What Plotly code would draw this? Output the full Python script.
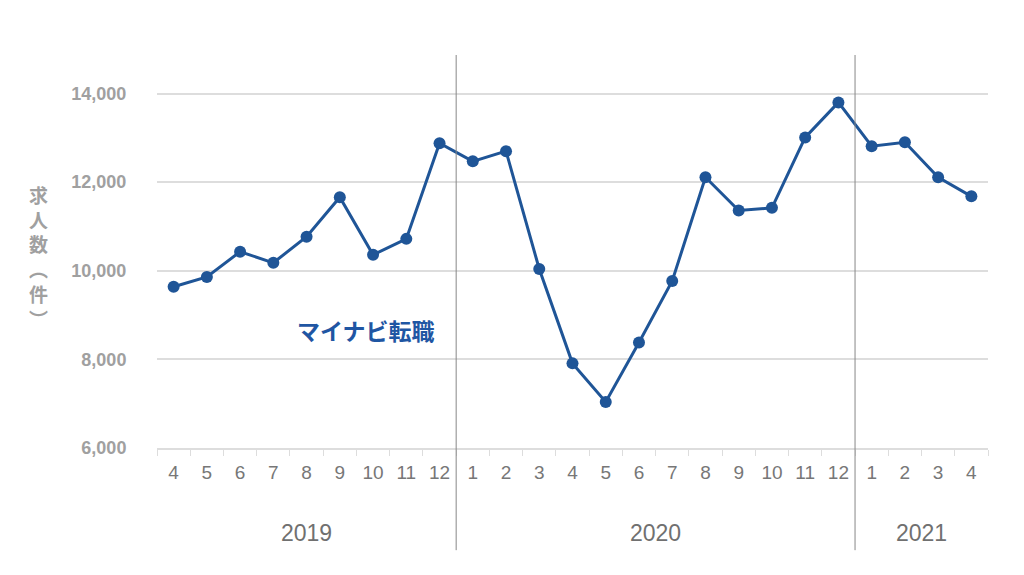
import plotly.graph_objects as go

years = [2019]*9 + [2020]*12 + [2021]*4
months = [4,5,6,7,8,9,10,11,12, 1,2,3,4,5,6,7,8,9,10,11,12, 1,2,3,4]
values = [9640, 9860, 10430, 10180, 10770, 11660, 10360, 10720, 12880,
          12470, 12700, 10040, 7910, 7040, 8380, 9770, 12110, 11360, 11420, 13010, 13800,
          12810, 12900, 12110, 11680]
series_name = "マイナビ転職"
y_title_chars = ["求", "人", "数", "︵", "件", "︶"]
y_ticks = [6000, 8000, 10000, 12000, 14000]

cats = [f"{y}-{m}" for y, m in zip(years, months)]
blue = "#1f5597"

fig = go.Figure()
fig.add_trace(go.Scatter(
    x=cats, y=values, mode="lines+markers", name=series_name,
    line=dict(color=blue, width=3),
    marker=dict(color=blue, size=12),
    showlegend=False,
))

idx_groups = {}
for i, y in enumerate(years):
    idx_groups.setdefault(y, []).append(i)
shapes = []
annotations = []
for k, y in enumerate(sorted(idx_groups)):
    ids = idx_groups[y]
    center = (ids[0] + ids[-1]) / 2
    annotations.append(dict(x=center, y=-0.216, xref="x", yref="paper",
                            text=str(y), showarrow=False,
                            font=dict(size=23, color="#707070"),
                            xanchor="center", yanchor="middle"))
    if k > 0:
        shapes.append(dict(type="line", xref="x", yref="paper",
                           x0=ids[0] - 0.5, x1=ids[0] - 0.5, y0=-0.26, y1=1,
                           line=dict(color="#888888", width=1)))

annotations.append(dict(x=0, xref="paper", y=0.4885, yref="paper",
                        text="<b>" + "<br>".join(y_title_chars) + "</b>",
                        showarrow=False, xshift=-119,
                        font=dict(size=19, color="#a0a0a0",
                                  family="Noto Sans CJK JP"),
                        xanchor="center", yanchor="middle"))
annotations.append(dict(x=7.92, y=8660, xref="x", yref="y",
                        text=f"<b>{series_name}</b>", showarrow=False,
                        font=dict(size=23, color="#1f56a3",
                                  family="Noto Sans CJK JP"),
                        xanchor="right", yanchor="middle"))

fig.update_layout(
    width=1024, height=575,
    margin=dict(l=149, r=44, t=47, b=135),
    paper_bgcolor="white", plot_bgcolor="white",
    font=dict(family="Liberation Sans, Arial, sans-serif"),
    shapes=shapes, annotations=annotations,
)
fig.update_xaxes(
    type="category", categoryorder="array", categoryarray=cats,
    tickvals=cats, ticktext=[str(m) for m in months],
    tickson="boundaries", ticks="outside", ticklen=6, tickcolor="#dddddd",
    showline=True, linecolor="#dddddd", linewidth=1.5,
    showgrid=False, tickfont=dict(size=19, color="#777777"),
    ticklabelstandoff=6,
    range=[-0.5, len(cats) - 0.5],
)
fig.update_yaxes(
    range=[6000, 14870], tickvals=y_ticks,
    ticktext=[f"<b>{v:,}</b>" for v in y_ticks],
    showgrid=True, gridcolor="#dddddd", gridwidth=1.5,
    zeroline=False, showline=False,
    tickfont=dict(size=18, color="#a0a0a0"),
    ticks="outside", ticklen=26, tickcolor="rgba(0,0,0,0)",
)

fig.write_html("out.html")
